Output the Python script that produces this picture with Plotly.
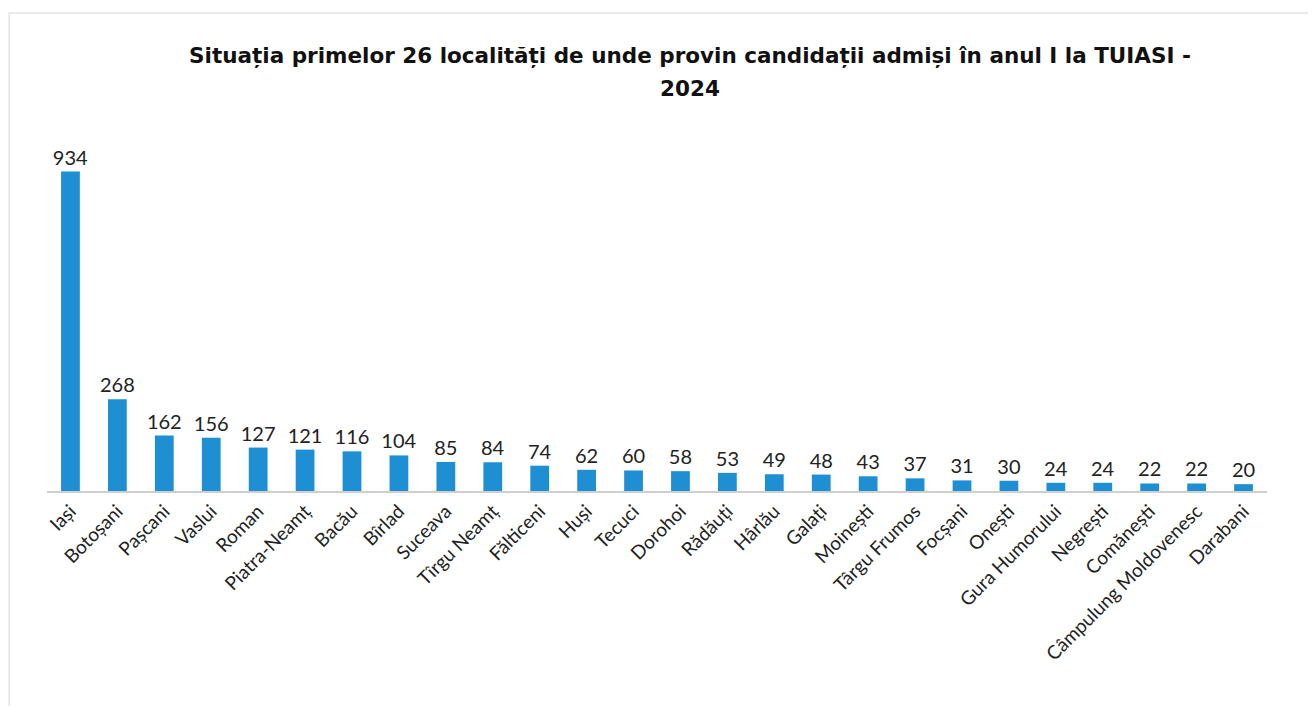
import plotly.graph_objects as go

categories = ["Iași", "Botoșani", "Pașcani", "Vaslui", "Roman", "Piatra-Neamț", "Bacău",
              "Bîrlad", "Suceava", "Tîrgu Neamț", "Fălticeni", "Huși", "Tecuci", "Dorohoi",
              "Rădăuți", "Hârlău", "Galați", "Moinești", "Târgu Frumos", "Focșani", "Onești",
              "Gura Humorului", "Negrești", "Comănești", "Câmpulung Moldovenesc", "Darabani"]
values = [934, 268, 162, 156, 127, 121, 116, 104, 85, 84, 74, 62, 60, 58, 53, 49, 48, 43,
          37, 31, 30, 24, 24, 22, 22, 20]

title_line1 = "Situația primelor 26 localități de unde provin candidații admiși în anul I la TUIASI -"
title_line2 = "2024"

fig = go.Figure(go.Bar(
    x=categories, y=values,
    marker=dict(color="#1f8fd4", line=dict(width=0)),
    text=[str(v) for v in values], textposition="outside", constraintext="none",
    textfont=dict(family="Lato, Open Sans, sans-serif", size=20, color="#222222"),
    cliponaxis=False,
))

title_font = dict(family="DejaVu Sans, sans-serif", size=21.5, color="#111111")

fig.update_layout(
    width=1300, height=698,
    paper_bgcolor="white", plot_bgcolor="white",
    margin=dict(l=39, r=41, t=141, b=215, autoexpand=False),
    bargap=0.6,
    showlegend=False,
    title=dict(text="<b>" + title_line1 + "</b>", x=0.5246, xanchor="center",
               y=1 - 47 / 698, yanchor="middle", font=title_font),
    annotations=[dict(text="<b>" + title_line2 + "</b>", xref="paper", yref="paper",
                      x=(682 - 39) / 1220, y=(698 - 215 - 80) / 342,
                      xanchor="center", yanchor="middle", showarrow=False, font=title_font)],
    xaxis=dict(tickangle=-45, showline=True, linecolor="#cfcfcf", linewidth=1.5,
               ticks="", showgrid=False, automargin=False,
               tickfont=dict(family="Lato, Open Sans, sans-serif", size=19, color="#222222")),
    yaxis=dict(range=[0, 1000], visible=False, showgrid=False, zeroline=False, automargin=False),
    shapes=[dict(type="rect", xref="paper", yref="paper", x0=-0.031, x1=1.2, y0=-1.0, y1=1.398,
                 line=dict(color="#e4e4e4", width=1.5), fillcolor="rgba(0,0,0,0)", layer="below")],
)

fig.write_html("out.html")
